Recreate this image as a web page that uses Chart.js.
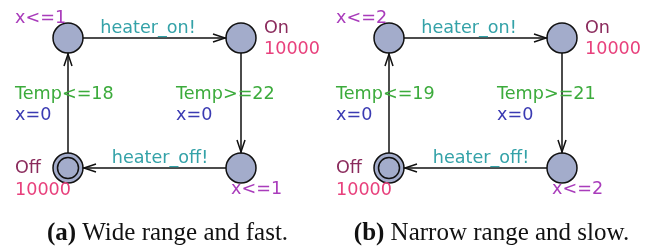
<!DOCTYPE html>
<html>
<head>
<meta charset="utf-8">
<script src="https://cdn.jsdelivr.net/npm/chart.js@4.4.1/dist/chart.umd.min.js"></script>
<style>
  html, body { margin: 0; padding: 0; background: #fff; }
  canvas { display: block; }
</style>
</head>
<body>
<canvas id="chart" width="652" height="246"></canvas>
<script>
// Data - two UPPAAL heater automata (a) and (b)
const panelShift = [0, 321];
const panelTags = ['(a)', '(b)'];
const panelCaptions = ['Wide range and fast.', 'Narrow range and slow.'];
const invariants = ['x<=1', 'x<=2'];
const guardsOff = ['Temp<=18', 'Temp<=19'];
const guardsOn = ['Temp>=22', 'Temp>=21'];

// locations: 0 = waiting after off, 1 = On, 2 = waiting after on, 3 = Off (initial)
const locX = [68, 241, 241, 68];
const locY = [38, 38, 168, 168];
const locNames = ['', 'On', '', 'Off'];
const locRates = ['', '10000', '', '10000'];
const locInvariant = [true, false, true, false];
const initialLoc = 3;

// edges
const edgeFrom = [0, 1, 2, 3];
const edgeTo = [1, 2, 3, 0];
const edgeSync = ['heater_on!', '', 'heater_off!', ''];
const edgeUpdate = ['', 'x=0', '', 'x=0'];

const COLORS = {
  node: '#a3accb',
  edge: '#111',
  name: '#8a2a5c',
  rate: '#e8407c',
  invariant: '#a93cbb',
  guard: '#3cab3c',
  sync: '#34a2a8',
  update: '#3a3ab2'
};
const NODE_R = 15;
const FONT = '17.6px "DejaVu Sans"';

function guardFor(panel, e) {
  if (e === 1) return guardsOn[panel];
  if (e === 3) return guardsOff[panel];
  return '';
}

// build datasets
const datasets = [];
panelShift.forEach((dx) => {
  datasets.push({
    label: 'initial',
    data: [{ x: locX[initialLoc] + dx, y: locY[initialLoc] }],
    pointRadius: 10.5,
    pointBackgroundColor: 'rgba(0,0,0,0)',
    pointBorderColor: COLORS.edge,
    pointBorderWidth: 1.5,
    showLine: false
  });
});
panelShift.forEach((dx) => {
  datasets.push({
    label: 'locations',
    data: locX.map((x, i) => ({ x: x + dx, y: locY[i] })),
    pointRadius: NODE_R,
    pointBackgroundColor: COLORS.node,
    pointBorderColor: COLORS.edge,
    pointBorderWidth: 1.5,
    showLine: false
  });
});
panelShift.forEach((dx) => {
  edgeFrom.forEach((f, e) => {
    const t = edgeTo[e];
    datasets.push({
      label: 'edge',
      data: [{ x: locX[f] + dx, y: locY[f] }, { x: locX[t] + dx, y: locY[t] }],
      showLine: true,
      borderColor: COLORS.edge,
      borderWidth: 1.5,
      pointRadius: 0
    });
  });
});

// arrow heads, labels and captions
const diagramPlugin = {
  id: 'diagram',
  afterDatasetsDraw(chart) {
    const ctx = chart.ctx;
    const xs = chart.scales.x, ys = chart.scales.y;
    const px = v => xs.getPixelForValue(v);
    const py = v => ys.getPixelForValue(v);

    ctx.save();
    // arrow heads
    ctx.strokeStyle = COLORS.edge;
    ctx.lineWidth = 1.5;
    panelShift.forEach((dx) => {
      edgeFrom.forEach((f, e) => {
        const t = edgeTo[e];
        const x1 = px(locX[f] + dx), y1 = py(locY[f]);
        const x2 = px(locX[t] + dx), y2 = py(locY[t]);
        const ang = Math.atan2(y2 - y1, x2 - x1);
        const tx = x2 - Math.cos(ang) * (NODE_R + 1);
        const ty = y2 - Math.sin(ang) * (NODE_R + 1);
        const len = 12, half = 4;
        const bx = tx - Math.cos(ang) * len, by = ty - Math.sin(ang) * len;
        const nx = -Math.sin(ang) * half, ny = Math.cos(ang) * half;
        ctx.beginPath();
        ctx.moveTo(bx + nx, by + ny);
        ctx.lineTo(tx, ty);
        ctx.lineTo(bx - nx, by - ny);
        ctx.stroke();
      });
    });

    // text
    ctx.font = FONT;
    ctx.textBaseline = 'alphabetic';
    const text = (s, x, y, color, align) => {
      if (!s) return;
      ctx.fillStyle = color;
      ctx.textAlign = align || 'left';
      ctx.fillText(s, x, y);
    };

    panelShift.forEach((dx, p) => {
      locX.forEach((lx, i) => {
        const cx = px(lx + dx), cy = py(locY[i]);
        const right = lx > 150;
        if (locNames[i]) {
          if (right) {
            text(locNames[i], cx + 23, cy - 5, COLORS.name);
            text(locRates[i], cx + 23, cy + 16, COLORS.rate);
          } else {
            text(locNames[i], cx - 53, cy + 5, COLORS.name);
            text(locRates[i], cx - 53, cy + 27, COLORS.rate);
          }
        }
        if (locInvariant[i]) {
          if (right) text(invariants[p], cx - 10, cy + 26, COLORS.invariant);
          else text(invariants[p], cx - 53, cy - 15, COLORS.invariant);
        }
      });

      edgeFrom.forEach((f, e) => {
        const t = edgeTo[e];
        const mx = (px(locX[f] + dx) + px(locX[t] + dx)) / 2;
        const my = (py(locY[f]) + py(locY[t])) / 2;
        if (locY[f] === locY[t]) {
          const shift = locX[t] > locX[f] ? -6.5 : 5.5;
          text(edgeSync[e], mx + shift, my - 5, COLORS.sync, 'center');
        } else {
          const lx = locX[f] < 150 ? mx - 53 : mx - 65;
          text(guardFor(p, e), lx, my - 4, COLORS.guard);
          text(edgeUpdate[e], lx, my + 17, COLORS.update);
        }
      });

      // caption
      const boldF = 'bold 25px "Liberation Serif"';
      const regF = '25px "Liberation Serif"';
      ctx.font = boldF;
      const wTag = ctx.measureText(panelTags[p] + ' ').width;
      ctx.font = regF;
      const wCap = ctx.measureText(panelCaptions[p]).width;
      const centre = px(p === 0 ? 167.5 : 491.5);
      const start = centre - (wTag + wCap) / 2;
      ctx.fillStyle = '#111';
      ctx.textAlign = 'left';
      ctx.font = boldF;
      ctx.fillText(panelTags[p], start, 240);
      ctx.font = regF;
      ctx.fillText(panelCaptions[p], start + wTag, 240);
      ctx.font = FONT;
    });
    ctx.restore();
  }
};

new Chart(document.getElementById('chart'), {
  type: 'scatter',
  data: { datasets },
  options: {
    responsive: false,
    animation: false,
    devicePixelRatio: 1,
    layout: { padding: 0, autoPadding: false },
    plugins: { legend: { display: false }, tooltip: { enabled: false } },
    scales: {
      x: { type: 'linear', min: 0, max: 652, display: false },
      y: { type: 'linear', min: 0, max: 246, reverse: true, display: false }
    }
  },
  plugins: [diagramPlugin]
});
</script>
</body>
</html>
